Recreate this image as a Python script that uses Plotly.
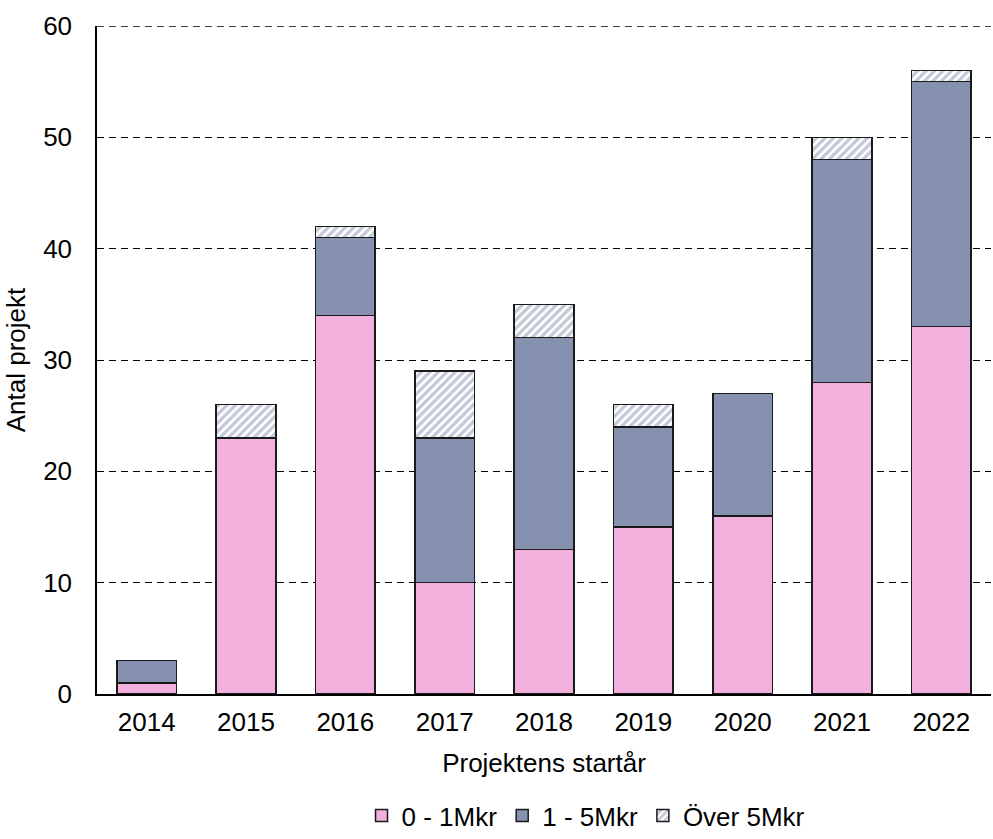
import plotly.graph_objects as go

years = ["2014", "2015", "2016", "2017", "2018", "2019", "2020", "2021", "2022"]
small = [1, 23, 34, 10, 13, 15, 16, 28, 33]
mid = [2, 0, 7, 13, 19, 9, 11, 20, 22]
large = [0, 3, 1, 6, 3, 2, 0, 2, 1]

pink = "#F2B0DC"
blue = "#8591AE"
font = "Liberation Sans, Arial, sans-serif"
edge = dict(color="#1a1a1a", width=1.5)

fig = go.Figure()
fig.add_trace(go.Bar(x=years, y=small, name="0 - 1Mkr",
                     marker=dict(color=pink, line=edge)))
fig.add_trace(go.Bar(x=years, y=mid, name="1 - 5Mkr",
                     marker=dict(color=blue, line=edge)))
fig.add_trace(go.Bar(x=years, y=large, name="Över 5Mkr",
                     marker=dict(color="white", line=edge,
                                 pattern=dict(shape="/", fgcolor=blue, bgcolor="white",
                                              size=6, solidity=0.55))))

# dashed gridline at the top of the range
fig.add_shape(type="line", xref="paper", yref="y", x0=0, x1=1, y0=60, y1=60,
              line=dict(color="#000000", width=1.4, dash="7px,5px"), layer="below")

fig.update_layout(
    barmode="stack",
    bargap=0.4,
    width=993, height=839,
    margin=dict(l=97, r=2, t=26, b=145, autoexpand=False),
    paper_bgcolor="white", plot_bgcolor="white",
    font=dict(family=font, size=26, color="#000000"),
    showlegend=True,
    legend=dict(orientation="h", x=0.547, xanchor="center",
                yref="container", y=0.0, yanchor="bottom",
                traceorder="normal", font=dict(size=26), itemwidth=30,
                tracegroupgap=0, bgcolor="rgba(0,0,0,0)"),
    xaxis=dict(title=dict(text="Projektens startår", font=dict(size=26), standoff=18),
               showline=True, linecolor="#000000", linewidth=1.5, automargin=False,
               ticks="", tickfont=dict(size=26), ticklabelstandoff=4),
    yaxis=dict(title=dict(text="Antal projekt", font=dict(size=26), standoff=10),
               range=[0, 60], dtick=10, showline=True, linecolor="#000000", linewidth=1.5,
               automargin=False,
               showgrid=True, gridcolor="#000000", gridwidth=1.4, griddash="7px,5px",
               zeroline=False, ticks="", tickfont=dict(size=26), ticklabelstandoff=18),
)

fig.write_html("out.html")
